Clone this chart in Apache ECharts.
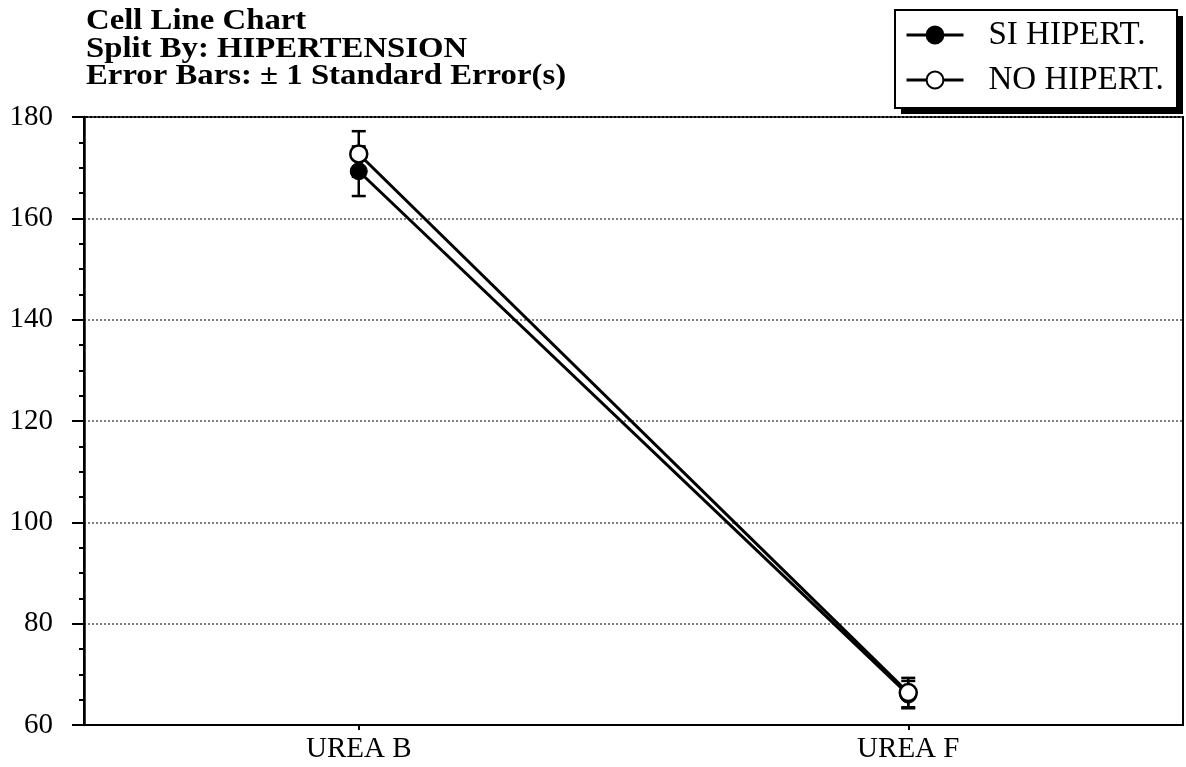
<!DOCTYPE html>
<html>
<head>
<meta charset="utf-8">
<script src="https://cdn.jsdelivr.net/npm/echarts@6/dist/echarts.min.js"></script>
<style>
  html, body { margin: 0; padding: 0; background: #fff; }
  #chart { width: 1186px; height: 767px; }
</style>
</head>
<body>
<div id="chart"></div>
<script>
// Cell means of urea before/after, split by hypertension, with ±1 standard error
const categories = ['UREA B', 'UREA F'];
const siName = 'SI HIPERT.';
const noName = 'NO HIPERT.';
const siMean = [169.3, 66.0];
const siSE = [4.9, 2.7];
const noMean = [172.7, 66.4];
const noSE = [4.5, 2.9];
const yTicks = [60, 80, 100, 120, 140, 160, 180];
const titleLines = [
  'Cell Line Chart',
  'Split By: HIPERTENSION',
  'Error Bars: \u00b1 1 Standard Error(s)'
];

const serif = '"Liberation Serif", "DejaVu Serif", serif';

function errorData(means, ses) {
  return means.map((m, i) => [i, m - ses[i], m + ses[i]]);
}

function renderErrorBar(params, api) {
  const x = api.value(0);
  const lo = api.coord([x, api.value(1)]);
  const hi = api.coord([x, api.value(2)]);
  const half = 7;
  const style = { stroke: '#000', lineWidth: 2.5, fill: null };
  return {
    type: 'group',
    children: [
      { type: 'line', shape: { x1: lo[0], y1: lo[1], x2: hi[0], y2: hi[1] }, style },
      { type: 'line', shape: { x1: hi[0] - half, y1: hi[1], x2: hi[0] + half, y2: hi[1] }, style },
      { type: 'line', shape: { x1: lo[0] - half, y1: lo[1], x2: lo[0] + half, y2: lo[1] }, style }
    ]
  };
}

// Bold three-line heading, set slightly wide
const titleGraphics = titleLines.map((t, i) => ({
  type: 'text',
  x: 86,
  y: 22 + i * 27.5,
  scaleX: 1.13,
  scaleY: 1,
  z: 10,
  style: {
    text: t,
    fontFamily: serif,
    fontWeight: 'bold',
    fontSize: 29,
    fill: '#000',
    align: 'left',
    verticalAlign: 'middle'
  }
}));

// Legend frame with a solid drop shadow
const legendBox = { x: 895, y: 10, w: 282, h: 98, shadow: 6 };
const legendFrame = [
  {
    type: 'rect',
    z: 1,
    shape: { x: legendBox.x + legendBox.shadow, y: legendBox.y + legendBox.shadow, width: legendBox.w, height: legendBox.h },
    style: { fill: '#000' }
  },
  {
    type: 'rect',
    z: 2,
    shape: { x: legendBox.x, y: legendBox.y, width: legendBox.w, height: legendBox.h },
    style: { fill: '#fff', stroke: '#000', lineWidth: 2 }
  }
];

const chart = echarts.init(document.getElementById('chart'), null, { renderer: 'canvas' });

chart.setOption({
  backgroundColor: '#fff',
  animation: false,
  graphic: { elements: legendFrame.concat(titleGraphics) },
  legend: {
    data: [siName, noName],
    orient: 'vertical',
    left: legendBox.x,
    top: legendBox.y,
    padding: [7, 10, 10, 10],
    itemGap: 9,
    itemWidth: 57,
    itemHeight: 21,
    z: 20,
    lineStyle: { width: 3, color: '#000' },
    textStyle: {
      fontFamily: serif,
      fontSize: 33,
      lineHeight: 36,
      color: '#000',
      padding: [0, 0, 0, 20]
    }
  },
  grid: {
    left: 84,
    right: 3,
    top: 117,
    bottom: 42,
    show: true,
    borderColor: '#000',
    borderWidth: 2,
    backgroundColor: 'transparent'
  },
  xAxis: {
    type: 'category',
    data: categories,
    boundaryGap: true,
    axisLine: { lineStyle: { color: '#000', width: 2 } },
    axisTick: { show: true, alignWithLabel: true, length: 5, lineStyle: { color: '#000', width: 2 } },
    axisLabel: {
      fontFamily: serif,
      fontSize: 29,
      color: '#000',
      margin: 10
    },
    splitLine: { show: false }
  },
  yAxis: {
    type: 'value',
    min: yTicks[0],
    max: yTicks[yTicks.length - 1],
    interval: 20,
    axisLine: { show: true, lineStyle: { color: '#000', width: 2.5 } },
    axisTick: { show: true, length: 12, lineStyle: { color: '#000', width: 2 } },
    minorTick: { show: true, splitNumber: 4, length: 5, lineStyle: { color: '#000', width: 2 } },
    axisLabel: {
      fontFamily: serif,
      fontSize: 29,
      color: '#000',
      margin: 31
    },
    splitLine: {
      show: true,
      lineStyle: { color: '#555', width: 1.5, type: [2, 2] }
    }
  },
  series: [
    {
      name: siName + ' SE',
      type: 'custom',
      renderItem: renderErrorBar,
      data: errorData(siMean, siSE),
      encode: { x: 0, y: [1, 2] },
      z: 1,
      silent: true
    },
    {
      name: noName + ' SE',
      type: 'custom',
      renderItem: renderErrorBar,
      data: errorData(noMean, noSE),
      encode: { x: 0, y: [1, 2] },
      z: 1,
      silent: true
    },
    {
      name: siName,
      type: 'line',
      data: siMean,
      symbol: 'circle',
      symbolSize: 17,
      z: 3,
      lineStyle: { color: '#000', width: 3 },
      itemStyle: { color: '#000', borderColor: '#000', borderWidth: 1 }
    },
    {
      name: noName,
      type: 'line',
      data: noMean,
      symbol: 'circle',
      symbolSize: 17,
      z: 4,
      lineStyle: { color: '#000', width: 3 },
      itemStyle: { color: '#fff', borderColor: '#000', borderWidth: 2.5 }
    }
  ]
});
</script>
</body>
</html>
